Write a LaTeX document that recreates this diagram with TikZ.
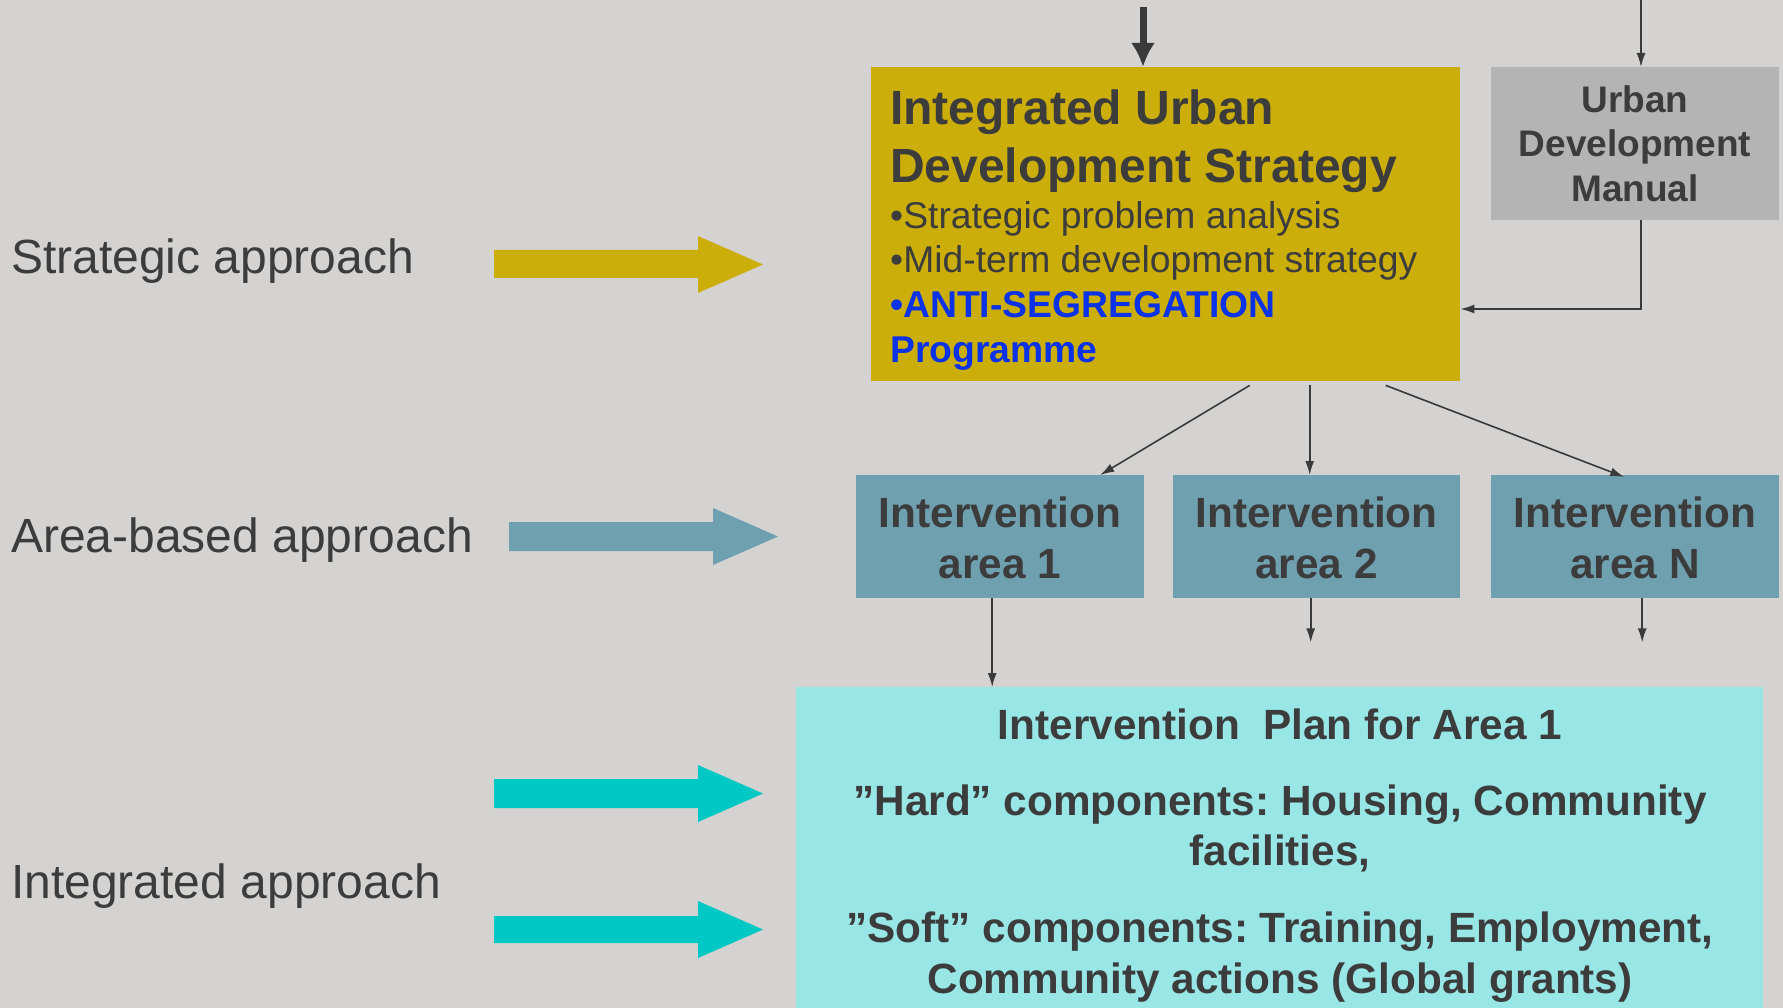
\documentclass[tikz,border=0pt]{standalone}
\usepackage{fontspec}
\setmainfont{Liberation Sans}
\usetikzlibrary{arrows.meta,calc}
\frenchspacing
\definecolor{bgc}{RGB}{212,211,209}
\definecolor{yel}{RGB}{204,174,10}
\definecolor{greyc}{RGB}{180,180,180}
\definecolor{areac}{RGB}{111,160,176}
\definecolor{cyanbox}{RGB}{152,230,230}
\definecolor{cyanarr}{RGB}{0,200,196}
\definecolor{textc}{RGB}{60,60,60}
\definecolor{bluec}{RGB}{10,50,230}
\definecolor{linec}{RGB}{58,58,58}
\begin{document}
\begin{tikzpicture}[x=1pt,y=-1pt,
  txt/.style={inner sep=0pt, text=textc},
  box/.style={inner sep=0pt, draw=none, anchor=north west},
  conn/.style={draw=linec, line width=1.6pt, -{Latex[length=14pt,width=9pt]}},
  lab/.style={txt, anchor=base west, font=\fontsize{48}{56}\selectfont},
  title/.style={txt, anchor=base west, font=\bfseries\fontsize{48}{58}\selectfont},
  bul/.style={txt, anchor=base west, font=\fontsize{37.3}{44}\selectfont},
  gtxt/.style={txt, anchor=base, font=\bfseries\fontsize{37}{44}\selectfont},
  atxt/.style={txt, anchor=base, font=\bfseries\fontsize{42.3}{51}\selectfont},
]
\useasboundingbox (0,0) rectangle (1783,1008);
\fill[bgc] (0,0) rectangle (1783,1008);

% left labels
\node[lab] (l1) at (11,274) {Strategic approach};
\node[lab] (l2) at (11,552) {Area-based approach};
\node[lab] (l3) at (11,898) {Integrated approach};

% block arrows
\fill[yel] (494,250) -- (698,250) -- (698,236) -- (763,264.5) -- (698,293) -- (698,278) -- (494,278) -- cycle;
\fill[areac] (509,522) -- (713,522) -- (713,508) -- (778,536.5) -- (713,565) -- (713,551) -- (509,551) -- cycle;
\fill[cyanarr] (494,779) -- (698,779) -- (698,765) -- (763,793.5) -- (698,822) -- (698,808) -- (494,808) -- cycle;
\fill[cyanarr] (494,916) -- (698,916) -- (698,901) -- (763,929.5) -- (698,958) -- (698,943) -- (494,943) -- cycle;

% yellow box
\node[box, fill=yel, minimum width=589pt, minimum height=314pt] (ybox) at (871,67) {};
\node[title] (yt1) at (890,125) {Integrated Urban};
\node[title] (yt2) at (890,183) {Development Strategy};
\node[bul] (yb1) at (890,229) {•Strategic problem analysis};
\node[bul] (yb2) at (890,273) {•Mid-term development strategy};
\node[bul, text=bluec, font=\bfseries\fontsize{37.3}{44}\selectfont] (yb3) at (890,317) {•ANTI-SEGREGATION};
\node[bul, text=bluec, font=\bfseries\fontsize{37.3}{44}\selectfont] (yb4) at (890,362) {Programme};

% grey box
\node[box, fill=greyc, minimum width=288pt, minimum height=153pt] (gbox) at (1491,67) {};
\node[gtxt] (g1) at (1635,113) {Urban};
\node[gtxt] (g2) at (1635,157) {Development};
\node[gtxt] (g3) at (1635,202) {Manual};

% intervention areas
\node[box, fill=areac, minimum width=288pt, minimum height=123pt] (ia) at (856,475) {};
\node[box, fill=areac, minimum width=287pt, minimum height=123pt] (ib) at (1173,475) {};
\node[box, fill=areac, minimum width=288pt, minimum height=123pt] (ic) at (1491,475) {};
\node[atxt] (ia1) at (1000,527) {Intervention};
\node[atxt] (ia2) at (1000,578) {area 1};
\node[atxt] (ib1) at (1316.5,527) {Intervention};
\node[atxt] (ib2) at (1316.5,578) {area 2};
\node[atxt] (ic1) at (1635,527) {Intervention};
\node[atxt] (ic2) at (1635,578) {area N};

% cyan plan box
\node[box, fill=cyanbox, minimum width=967pt, minimum height=321pt] (cbox) at (796,687) {};
\node[atxt] (c1) at (1280,739) {Intervention~ Plan for Area 1};
\node[atxt] (c2) at (1280,815) {”Hard” components: Housing, Community};
\node[atxt] (c3) at (1280,865) {facilities,};
\node[atxt] (c4) at (1280,942) {”Soft” components: Training, Employment,};
\node[atxt] (c5) at (1280,993) {Community actions (Global grants)};

% connectors
\coordinate (topy) at (1143,7);
\draw[linec, line width=7pt, -{Latex[length=24pt,width=24pt]}] (topy) -- (topy |- ybox.north);
\coordinate (topg) at (1641,0);
\draw[conn] (topg) -- (topg |- gbox.north);
\coordinate (gturn) at (1641,309);
\draw[conn] (gturn |- gbox.south) -- (gturn) -- (gturn -| ybox.east);

\draw[conn] ([xshift=84pt,yshift=-4pt]ybox.south) -- ([xshift=100pt]ia.north);
\draw[conn] ([xshift=144pt,yshift=-4pt]ybox.south) -- ([xshift=-7pt]ib.north);
\draw[conn] ([xshift=220pt,yshift=-4pt]ybox.south) -- ([xshift=-11pt,yshift=-2pt]ic.north);

\coordinate (d1) at ([xshift=-8pt]ia.south);
\draw[conn] (d1) -- (d1 |- cbox.north);
\coordinate (d2) at ([xshift=-6pt]ib.south);
\draw[conn] (d2) -- ++(0,44);
\coordinate (d3) at ([xshift=7pt]ic.south);
\draw[conn] (d3) -- ++(0,44);
\end{tikzpicture}
\end{document}
